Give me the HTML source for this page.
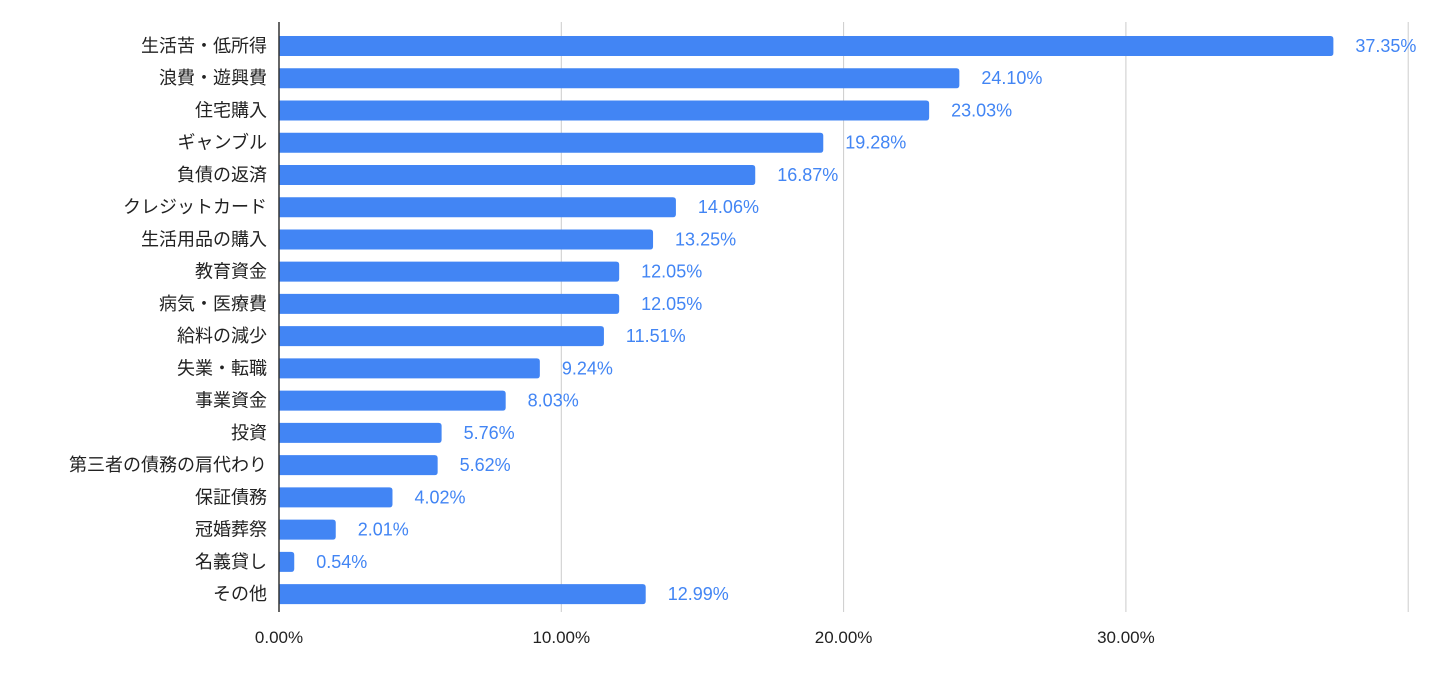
<!DOCTYPE html>
<html><head><meta charset="utf-8"><style>
html,body{margin:0;padding:0;background:#fff;}
svg{display:block;font-family:"Liberation Sans","Noto Sans CJK JP",sans-serif;}
</style></head><body>
<svg id="chart" width="1440" height="676" viewBox="0 0 1440 676"></svg>
<script>
const categories=["生活苦・低所得","浪費・遊興費","住宅購入","ギャンブル","負債の返済","クレジットカード","生活用品の購入","教育資金","病気・医療費","給料の減少","失業・転職","事業資金","投資","第三者の債務の肩代わり","保証債務","冠婚葬祭","名義貸し","その他"];
const values=[37.35,24.10,23.03,19.28,16.87,14.06,13.25,12.05,12.05,11.51,9.24,8.03,5.76,5.62,4.02,2.01,0.54,12.99];
const ticks=[0,10,20,30,40];
const tickLabels=["0.00%","10.00%","20.00%","30.00%",""];
const NS="http://www.w3.org/2000/svg";
const chartSvg=document.getElementById('chart');
const x0=279,pxPer=28.23,plotTop=22,plotBottom=612,firstY=46,step=32.24,barH=20;
const xs=v=>x0+v*pxPer;
const ys=i=>firstY+i*step;
function mk(t,a){const e=document.createElementNS(NS,t);for(const k in a)e.setAttribute(k,a[k]);chartSvg.appendChild(e);return e;}
ticks.forEach((t,i)=>{
  if(t>0){const g=mk('line',{x1:xs(t),x2:xs(t),y1:plotTop,y2:plotBottom,stroke:'#cccccc','stroke-width':1});
  
  }
  if(tickLabels[i]){const tl=mk('text',{x:xs(t),y:643,'text-anchor':'middle','font-size':17,fill:'#222'});tl.textContent=tickLabels[i];
  
  }
});
categories.forEach((c,i)=>{
  const y=ys(i),w=xs(values[i])-x0,r=3;
  const p=mk('path',{d:`M${x0},${y-barH/2}H${x0+w-r}Q${x0+w},${y-barH/2} ${x0+w},${y-barH/2+r}V${y+barH/2-r}Q${x0+w},${y+barH/2} ${x0+w-r},${y+barH/2}H${x0}Z`,fill:'#4285f4'});
  
  
  const cl=mk('text',{x:267,y:y+6,'text-anchor':'end','font-size':18,fill:'#222'});cl.textContent=c;
  
  
  const vl=mk('text',{x:xs(values[i])+22,y:y+6,'font-size':18,fill:'#4285f4'});vl.textContent=values[i].toFixed(2)+'%';
  
  
});
const ax=mk('line',{x1:x0,x2:x0,y1:plotTop,y2:plotBottom,stroke:'#333','stroke-width':1.5});


</script>
</body></html>
